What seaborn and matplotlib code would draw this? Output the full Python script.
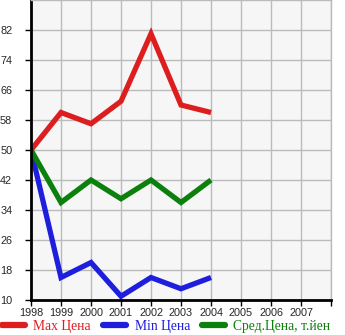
import matplotlib
matplotlib.use("Agg")
import matplotlib.pyplot as plt
import seaborn as sns
import pandas as pd

years = [1998, 1999, 2000, 2001, 2002, 2003, 2004]
max_price = [50, 60, 57, 63, 81, 62, 60]
min_price = [50, 16, 20, 11, 16, 13, 16]
avg_price = [50, 36, 42, 37, 42, 36, 42]
series_names = ["Max Цена", "Min Цена", "Сред.Цена, т.йен"]
colors = ["#dd1e1e", "#1e1edd", "#0c800c"]
x_ticks = list(range(1998, 2009))
x_labels = [str(y) for y in range(1998, 2008)] + [""]
y_ticks = list(range(10, 83, 8))

rows = []
for name, vals in zip(series_names, [max_price, min_price, avg_price]):
    for yr, v in zip(years, vals):
        rows.append({"year": yr, "price": v, "series": name})
df = pd.DataFrame(rows)

sns.set_style("white")
plt.rcParams["font.family"] = ["Liberation Sans", "DejaVu Sans"]

fig = plt.figure(figsize=(3.45, 3.35), dpi=100)
ax = fig.add_axes([31 / 345, 35 / 335, 300 / 345, 300 / 335])
ax.set_facecolor("#f6f6f6")

sns.lineplot(data=df, x="year", y="price", hue="series", hue_order=series_names,
             palette=colors, linewidth=3.8, sort=False, ax=ax, legend=False,
             solid_joinstyle="miter", solid_capstyle="butt")

ax.set_xlim(1998, 2008)
ax.set_ylim(10, 90)
ax.set_xticks(x_ticks)
ax.set_xticklabels(x_labels)
ax.set_yticks(y_ticks)
ax.grid(True, color="#bbbbbb", linewidth=1.0)
ax.set_axisbelow(True)
ax.set_xlabel("")
ax.set_ylabel("")

for side in ["left", "bottom"]:
    ax.spines[side].set_color("black")
    ax.spines[side].set_linewidth(2.0)
for side in ["top", "right"]:
    ax.spines[side].set_color("#bbbbbb")
    ax.spines[side].set_linewidth(1.0)
    ax.spines[side].set_visible(True)

ax.tick_params(axis="both", direction="out", length=4, width=1, color="black",
               labelsize=7.8, left=True, bottom=True)
ax.tick_params(axis="x", pad=1.5)
ax.tick_params(axis="y", pad=9.5)

handles = [plt.Line2D([0], [0], color=c, linewidth=4.5, solid_capstyle="round")
           for c in colors]
fig.legend(handles, series_names, loc="lower left", bbox_to_anchor=(0.0, 0.0),
           ncol=3, frameon=False, handlelength=1.7, handletextpad=0.6,
           columnspacing=0.9, labelcolor=colors, borderaxespad=0.0, borderpad=0.15,
           prop={"family": "Liberation Serif", "size": 9.8})

fig.savefig("out.png", dpi=100)
